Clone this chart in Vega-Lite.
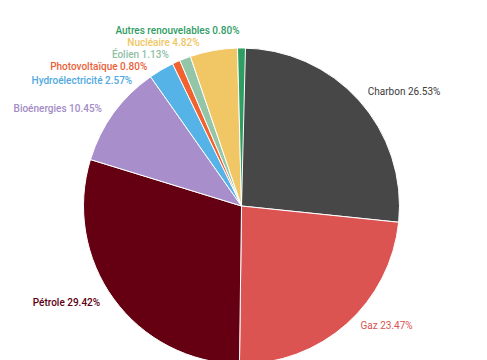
{
  "$schema": "https://vega.github.io/schema/vega-lite/v6.json",
  "width": 487,
  "height": 360,
  "autosize": {"type": "fit", "contains": "padding"},
  "padding": 0,
  "background": "white",
  "config": {"view": {"stroke": null}, "text": {"font": "Roboto", "fontSize": 10, "baseline": "middle"}},
  "data": {
    "values": [
      {"source": "Charbon", "share": 26.53},
      {"source": "Gaz", "share": 23.47},
      {"source": "Pétrole", "share": 29.42},
      {"source": "Bioénergies", "share": 10.45},
      {"source": "Hydroélectricité", "share": 2.57},
      {"source": "Photovoltaïque", "share": 0.80},
      {"source": "Éolien", "share": 1.13},
      {"source": "Nucléaire", "share": 4.82},
      {"source": "Autres renouvelables", "share": 0.80}
    ]
  },
  "transform": [
    {"window": [{"op": "row_number", "as": "rang"}]},
    {"stack": "share", "groupby": [], "sort": [{"field": "rang", "order": "ascending"}], "as": ["s0", "s1"]},
    {"calculate": "(datum.s0 + datum.s1) / 2", "as": "mid"},
    {"calculate": "datum.source + ' ' + format(datum.share, '.2f') + '%'", "as": "label"}
  ],
  "layer": [
    {
      "mark": {"type": "arc", "outerRadius": 158, "stroke": "white", "strokeWidth": 1, "x": 241.5, "y": 206},
      "encoding": {
        "theta": {"field": "s0", "type": "quantitative", "scale": {"zero": true, "nice": false}},
        "theta2": {"field": "s1"},
        "color": {
          "field": "source", "type": "nominal", "legend": null,
          "scale": {
            "domain": ["Charbon", "Gaz", "Pétrole", "Bioénergies", "Hydroélectricité", "Photovoltaïque", "Éolien", "Nucléaire", "Autres renouvelables"],
            "range": ["#474747", "#dc5452", "#640011", "#a88ecb", "#55b3e8", "#f0622f", "#93c6a8", "#f0c764", "#2f9e63"]
          }
        }
      }
    },
    {
      "transform": [{"filter": "datum.source == 'Charbon'"}],
      "mark": {"type": "text", "align": "left", "radius": 170, "dx": 0, "dy": 0, "x": 241.5, "y": 206, "color": "#3a3a3a"},
      "encoding": {"theta": {"field": "mid", "type": "quantitative"}, "text": {"field": "label"}}
    },
    {
      "transform": [{"filter": "datum.source == 'Gaz'"}],
      "mark": {"type": "text", "align": "left", "radius": 170, "dx": 6, "dy": -7, "x": 241.5, "y": 206, "color": "#d9534f"},
      "encoding": {"theta": {"field": "mid", "type": "quantitative"}, "text": {"field": "label"}}
    },
    {
      "transform": [{"filter": "datum.source == 'Pétrole'"}],
      "mark": {"type": "text", "align": "right", "radius": 170, "dx": -4, "dy": -3, "x": 241.5, "y": 206, "color": "#5c0010", "fontWeight": 500},
      "encoding": {"theta": {"field": "mid", "type": "quantitative"}, "text": {"field": "label"}}
    },
    {
      "transform": [{"filter": "datum.source == 'Bioénergies'"}],
      "mark": {"type": "text", "align": "right", "radius": 170, "dx": -2, "dy": 3, "x": 241.5, "y": 206, "color": "#a38bc6", "fontWeight": 500},
      "encoding": {"theta": {"field": "mid", "type": "quantitative"}, "text": {"field": "label"}}
    },
    {
      "transform": [{"filter": "datum.source == 'Hydroélectricité'"}],
      "mark": {"type": "text", "align": "right", "radius": 170, "dx": -23, "dy": 21, "x": 241.5, "y": 206, "color": "#4fa9de", "fontWeight": 500},
      "encoding": {"theta": {"field": "mid", "type": "quantitative"}, "text": {"field": "label"}}
    },
    {
      "transform": [{"filter": "datum.source == 'Photovoltaïque'"}],
      "mark": {"type": "text", "align": "right", "radius": 170, "dx": -24, "dy": 16, "x": 241.5, "y": 206, "color": "#e9623a", "fontWeight": 500},
      "encoding": {"theta": {"field": "mid", "type": "quantitative"}, "text": {"field": "label"}}
    },
    {
      "transform": [{"filter": "datum.source == 'Éolien'"}],
      "mark": {"type": "text", "align": "right", "radius": 170, "dx": -12, "dy": 8, "x": 241.5, "y": 206, "color": "#8fc0a6", "fontWeight": 500},
      "encoding": {"theta": {"field": "mid", "type": "quantitative"}, "text": {"field": "label"}}
    },
    {
      "transform": [{"filter": "datum.source == 'Nucléaire'"}],
      "mark": {"type": "text", "align": "right", "radius": 170, "dx": -12, "dy": 4, "x": 241.5, "y": 206, "color": "#f0c664", "fontWeight": 500},
      "encoding": {"theta": {"field": "mid", "type": "quantitative"}, "text": {"field": "label"}}
    },
    {
      "transform": [{"filter": "datum.source == 'Autres renouvelables'"}],
      "mark": {"type": "text", "align": "right", "radius": 170, "dx": -2, "dy": -5, "x": 241.5, "y": 206, "color": "#2f9c63", "fontWeight": 500},
      "encoding": {"theta": {"field": "mid", "type": "quantitative"}, "text": {"field": "label"}}
    }
  ]
}
